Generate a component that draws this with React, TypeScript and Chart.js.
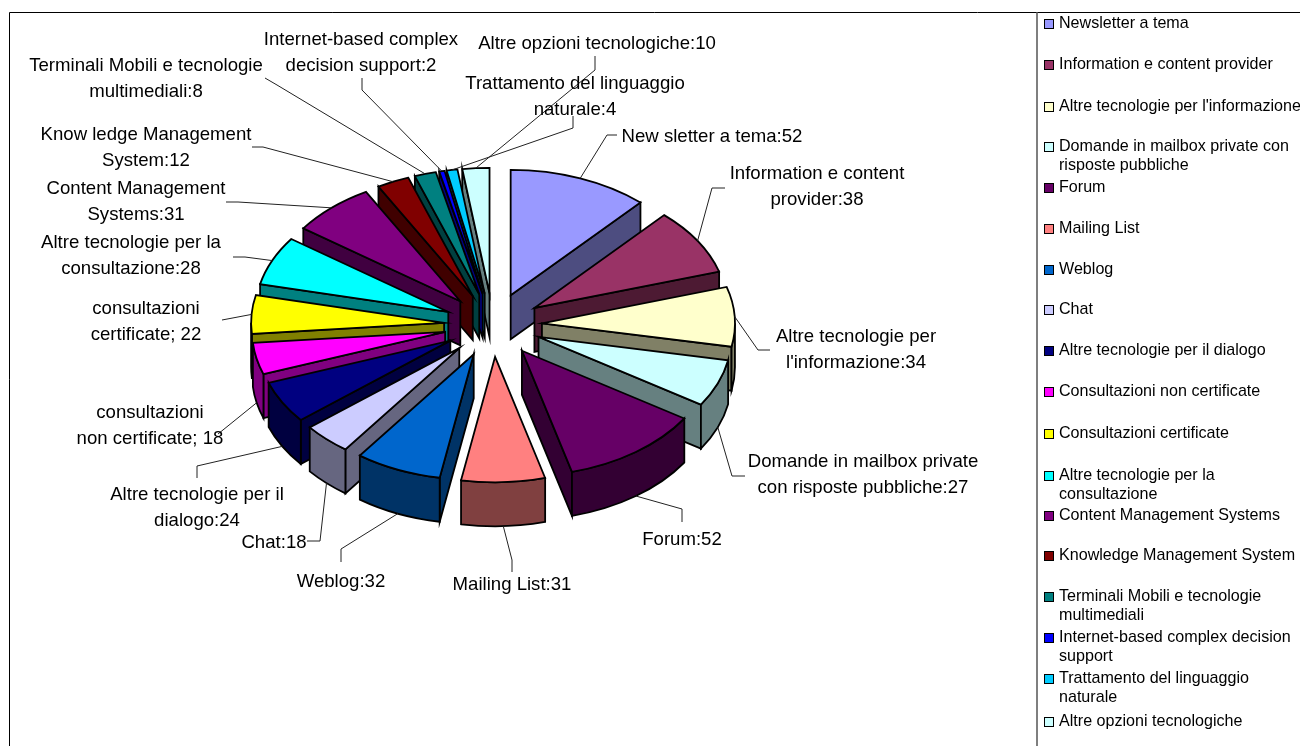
import React, { useEffect, useRef } from "react";
import { Chart, registerables } from "chart.js";

Chart.register(...registerables);

const categories = [
  "Newsletter a tema", "Information e content provider", "Altre tecnologie per l'informazione",
  "Domande in mailbox private con risposte pubbliche", "Forum", "Mailing List", "Weblog", "Chat",
  "Altre tecnologie per il dialogo", "Consultazioni non certificate", "Consultazioni certificate",
  "Altre tecnologie per la consultazione", "Content Management Systems", "Knowledge Management System",
  "Terminali Mobili e tecnologie multimediali", "Internet-based complex decision support",
  "Trattamento del linguaggio naturale", "Altre opzioni tecnologiche",
];
const values = [52, 38, 34, 27, 52, 31, 32, 18, 24, 18, 22, 28, 31, 12, 8, 2, 4, 10];
const topColors = [
  "#9999FF", "#993366", "#FFFFCC", "#CCFFFF", "#660066", "#FF8080", "#0066CC", "#CCCCFF", "#000080",
  "#FF00FF", "#FFFF00", "#00FFFF", "#800080", "#800000", "#008080", "#0000FF", "#00CCFF", "#CCFFFF",
];
const wallColors = [
  "#4D4D80", "#4D1A33", "#808066", "#668080", "#330033", "#804040", "#003366", "#666680", "#000040",
  "#800080", "#808000", "#008080", "#400040", "#400000", "#004040", "#000080", "#006680", "#668080",
];
const dataLabels = [
  ["New sletter a tema:52"], ["Information e content", "provider:38"], ["Altre tecnologie per", "l'informazione:34"],
  ["Domande in mailbox private", "con risposte pubbliche:27"], ["Forum:52"], ["Mailing List:31"], ["Weblog:32"], ["Chat:18"],
  ["Altre tecnologie per il", "dialogo:24"], ["consultazioni", "non certificate; 18"], ["consultazioni", "certificate; 22"],
  ["Altre tecnologie per la", "consultazione:28"], ["Content Management", "Systems:31"], ["Know ledge Management", "System:12"],
  ["Terminali Mobili e tecnologie", "multimediali:8"], ["Internet-based complex", "decision support:2"],
  ["Trattamento del linguaggio", "naturale:4"], ["Altre opzioni tecnologiche:10"],
];
const legendLines = [
  ["Newsletter a tema"], ["Information e content provider"], ["Altre tecnologie per l'informazione"],
  ["Domande in mailbox private con", "risposte pubbliche"], ["Forum"], ["Mailing List"], ["Weblog"], ["Chat"],
  ["Altre tecnologie per il dialogo"], ["Consultazioni non certificate"], ["Consultazioni certificate"],
  ["Altre tecnologie per la", "consultazione"], ["Content Management Systems"], ["Knowledge Management System"],
  ["Terminali Mobili e tecnologie", "multimediali"], ["Internet-based complex decision", "support"],
  ["Trattamento del linguaggio", "naturale"], ["Altre opzioni tecnologiche"],
];

// Layout of the annotation text, separate from the data
const labelCentres = [
  [712, 136], [817, 173], [856, 336], [863, 461], [682, 539], [512, 584], [341, 581], [274, 542], [197, 494],
  [150, 412], [146, 308], [131, 242], [136, 188], [146, 134], [146, 65], [361, 39], [575, 83], [597, 43],
];
const leaderBends = [
  [[607, 135], [617, 135]], [[712, 188], [725, 188]], [[758, 350], [770, 350]], [[732, 476], [745, 476]],
  [[682, 509], [682, 522]], [[512, 560], [512, 572]], [[341, 549], [341, 562]], [[320, 541], [307, 541]],
  [[197, 466], [197, 478]], [[218, 434]], [[222, 320]], [[245, 257], [233, 257]], [[238, 202], [226, 202]],
  [[263, 147], [252, 147]], [[277, 85], [265, 78]], [[362, 90], [362, 78]], [[573, 128], [573, 116]], [[595, 70], [595, 56]],
];
const legendRows = [24, 65, 107, 147, 188, 229, 270, 310, 351, 392, 434, 476, 516, 556, 597, 638, 679, 722];

const TILT = 0.65;
const DEPTH = 44;
const FONT = '18.6px "Liberation Sans", Arial, sans-serif';
const LEGEND_FONT = '16.1px "Liberation Sans", Arial, sans-serif';

function apex(arc: any) {
  const mid = (arc.startAngle + arc.endAngle) / 2;
  const off = arc.options.offset;
  return { mid, x: arc.x + Math.cos(mid) * off, y: arc.y + Math.sin(mid) * off * TILT };
}

function strokeFill(ctx: CanvasRenderingContext2D, fill: string) {
  ctx.fillStyle = fill;
  ctx.fill();
  ctx.stroke();
}

function drawSlice(ctx: CanvasRenderingContext2D, arc: any, top: string, wall: string) {
  const { x, y } = apex(arc);
  const r = arc.outerRadius;
  const ry = r * TILT;
  const s = arc.startAngle;
  const e = arc.endAngle;
  const px = (a: number) => x + Math.cos(a) * r;
  const py = (a: number) => y + Math.sin(a) * ry;
  const quad = (a: number) => {
    ctx.beginPath();
    ctx.moveTo(x, y);
    ctx.lineTo(px(a), py(a));
    ctx.lineTo(px(a), py(a) + DEPTH);
    ctx.lineTo(x, y + DEPTH);
    ctx.closePath();
    strokeFill(ctx, wall);
  };
  // Radial cut faces: visible when the outward normal points towards the viewer
  if (Math.sin(s - Math.PI / 2) > 0) quad(s);
  if (Math.sin(e + Math.PI / 2) > 0) quad(e);
  // Rim: only the part of the arc that faces the viewer
  const ranges = [[0, Math.PI], [2 * Math.PI, 3 * Math.PI]];
  for (const [lo, hi] of ranges) {
    const a = Math.max(s, lo);
    const b = Math.min(e, hi);
    if (b > a) {
      ctx.beginPath();
      ctx.ellipse(x, y, r, ry, 0, a, b);
      ctx.lineTo(px(b), py(b) + DEPTH);
      ctx.ellipse(x, y + DEPTH, r, ry, 0, b, a, true);
      ctx.closePath();
      strokeFill(ctx, wall);
    }
  }
  ctx.beginPath();
  ctx.moveTo(x, y);
  ctx.ellipse(x, y, r, ry, 0, s, e);
  ctx.closePath();
  strokeFill(ctx, top);
}

const pie3d = {
  id: "pie3d",
  beforeDatasetsDraw(chart: any) {
    const ctx: CanvasRenderingContext2D = chart.ctx;
    const arcs: any[] = chart.getDatasetMeta(0).data;
    ctx.save();
    // Frame
    ctx.strokeStyle = "#000";
    ctx.lineWidth = 1;
    ctx.beginPath();
    ctx.moveTo(9.5, 746);
    ctx.lineTo(9.5, 12.5);
    ctx.lineTo(1300, 12.5);
    ctx.stroke();
    ctx.strokeStyle = "#555";
    ctx.lineWidth = 1.5;
    ctx.beginPath();
    ctx.moveTo(1037, 12);
    ctx.lineTo(1037, 746);
    ctx.stroke();

    // Slices, back to front
    const order = arcs.map((_, i) => i).sort(
      (a, b) => Math.sin((arcs[a].startAngle + arcs[a].endAngle) / 2) - Math.sin((arcs[b].startAngle + arcs[b].endAngle) / 2),
    );
    ctx.strokeStyle = "#000";
    ctx.lineWidth = 1.8;
    ctx.lineJoin = "miter";
    for (const i of order) drawSlice(ctx, arcs[i], topColors[i], wallColors[i]);

    // Leader lines
    ctx.strokeStyle = "#222";
    ctx.lineWidth = 1;
    arcs.forEach((arc, i) => {
      const { mid, x, y } = apex(arc);
      const depth = Math.sin(mid) > 0.05 ? DEPTH : 0;
      ctx.beginPath();
      ctx.moveTo(x + Math.cos(mid) * arc.outerRadius, y + Math.sin(mid) * arc.outerRadius * TILT + depth);
      for (const [bx, by] of leaderBends[i]) ctx.lineTo(bx, by);
      ctx.stroke();
    });

    // Data labels
    ctx.fillStyle = "#000";
    ctx.font = FONT;
    ctx.textAlign = "center";
    ctx.textBaseline = "middle";
    dataLabels.forEach((lines, i) => {
      lines.forEach((line, j) => ctx.fillText(line, labelCentres[i][0], labelCentres[i][1] + 1 + j * 25.5));
    });

    // Legend
    ctx.font = LEGEND_FONT;
    ctx.textAlign = "left";
    ctx.lineWidth = 1;
    ctx.strokeStyle = "#000";
    legendLines.forEach((lines, i) => {
      const y = legendRows[i];
      ctx.fillStyle = topColors[i];
      ctx.fillRect(1044.5, y - 4.5, 9, 9);
      ctx.strokeRect(1044.5, y - 4.5, 9, 9);
      ctx.fillStyle = "#000";
      lines.forEach((line, j) => ctx.fillText(line, 1059, y + j * 19));
    });
    ctx.restore();
    return false;
  },
};

export default function App() {
  const ref = useRef<HTMLCanvasElement>(null);
  useEffect(() => {
    const chart = new Chart(ref.current!, {
      type: "pie",
      data: {
        labels: categories,
        datasets: [{ data: values, backgroundColor: topColors, radius: 193, offset: 49, borderWidth: 0 } as any],
      },
      options: {
        responsive: false,
        animation: false,
        layout: { padding: { left: 0, top: 0, right: 314, bottom: 96 } },
        plugins: { legend: { display: false }, tooltip: { enabled: false }, title: { display: false } },
      },
      plugins: [pie3d as any],
    });
    return () => chart.destroy();
  }, []);
  return (
    <canvas
      ref={ref}
      width={1300}
      height={746}
      style={{ position: "fixed", left: 0, top: 0, width: 1300, height: 746, background: "#fff" }}
    />
  );
}
